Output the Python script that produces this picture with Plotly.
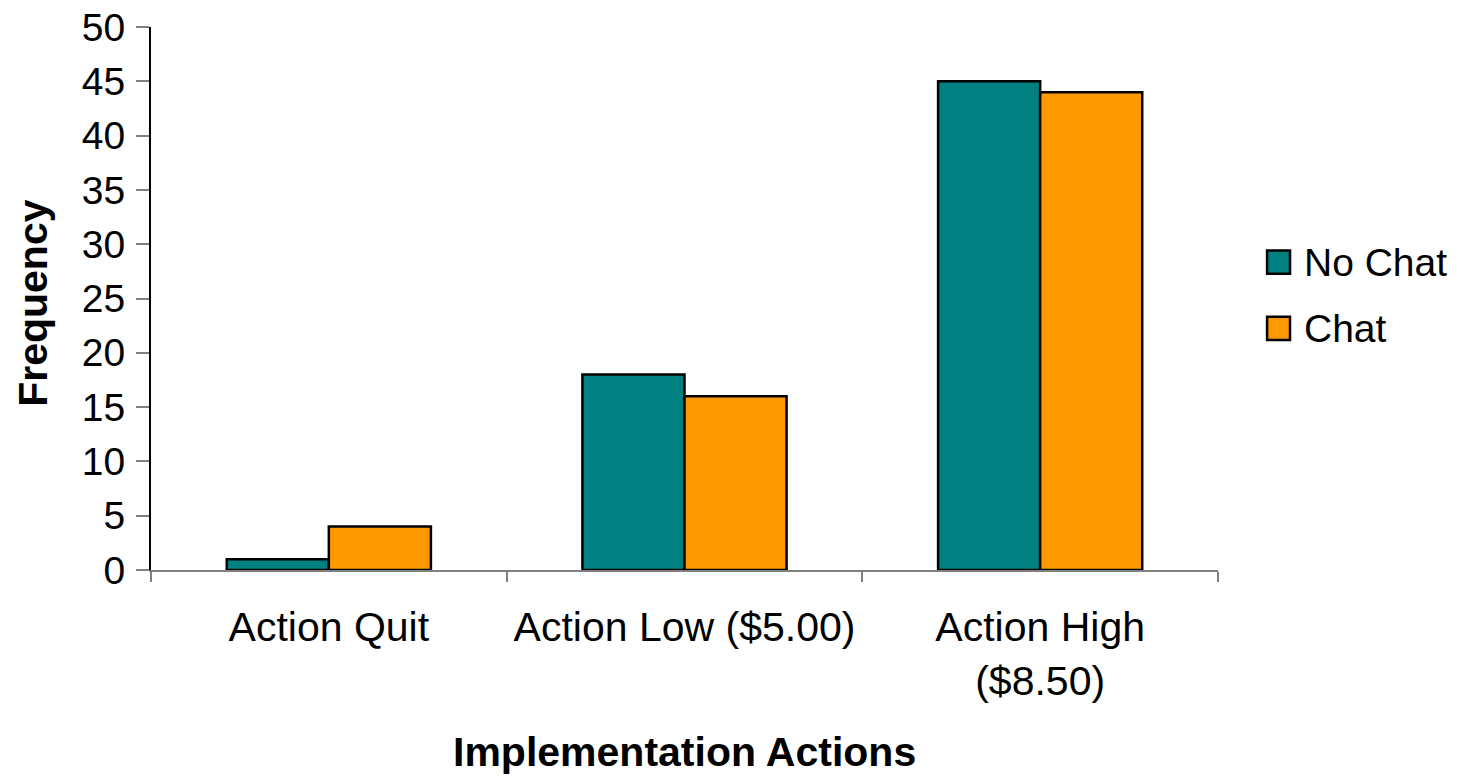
import plotly.graph_objects as go

# Frequencies of each implementation action, by treatment
categories = ["Action Quit", "Action Low ($5.00)", "Action High<br>($8.50)"]
no_chat = [1, 18, 45]
chat = [4, 16, 44]

series_names = ["No Chat", "Chat"]
series_colors = ["#008080", "#FF9900"]

FONT = "Liberation Sans, Arial, sans-serif"

fig = go.Figure()
for name, vals, color in zip(series_names, [no_chat, chat], series_colors):
    fig.add_trace(go.Bar(
        x=categories, y=vals, name=name,
        marker=dict(color=color, line=dict(color="black", width=2.5)),
        showlegend=False,
    ))

# Legend drawn as swatches with text labels to the right of the plot
legend_y = [0.567, 0.445]
for name, color, yy in zip(series_names, series_colors, legend_y):
    fig.add_shape(type="rect", xref="paper", yref="paper",
                  x0=1.046, x1=1.0675, y0=yy - 0.0212, y1=yy + 0.0212,
                  fillcolor=color, line=dict(color="black", width=2.5))
    fig.add_annotation(text=name, xref="paper", yref="paper",
                       x=1.0785, y=yy, xanchor="left", yanchor="middle",
                       showarrow=False, font=dict(family=FONT, size=39, color="black"))

fig.add_annotation(text="<b>Implementation Actions</b>", xref="paper", yref="paper",
                   x=0.5, y=-0.335, xanchor="center", yanchor="middle", showarrow=False,
                   font=dict(family=FONT, size=41, color="black"))
fig.add_annotation(text="<b>Frequency</b>", xref="paper", yref="paper",
                   x=-0.1106, y=0.492, xanchor="center", yanchor="middle", showarrow=False,
                   textangle=-90, font=dict(family=FONT, size=41, color="black"))

fig.update_layout(
    width=1460, height=776,
    margin=dict(l=151, r=242, t=27, b=206),
    paper_bgcolor="white", plot_bgcolor="white",
    barmode="group", bargap=0.426, bargroupgap=0,
    font=dict(family=FONT, size=39, color="black"),
    xaxis=dict(
        showline=True, linecolor="#808080", linewidth=2,
        ticks="outside", tickson="boundaries", ticklen=10, tickwidth=2, tickcolor="#808080",
        showgrid=False, tickfont=dict(size=41), ticklabelstandoff=20, automargin=False,
    ),
    yaxis=dict(
        range=[0, 50], dtick=5, showline=True, linecolor="black", linewidth=2,
        ticks="outside", ticklen=13, tickwidth=2, tickcolor="#808080",
        showgrid=False, zeroline=False, tickfont=dict(size=39),
        ticklabelstandoff=3, automargin=False,
    ),
)

fig.write_html("out.html")
